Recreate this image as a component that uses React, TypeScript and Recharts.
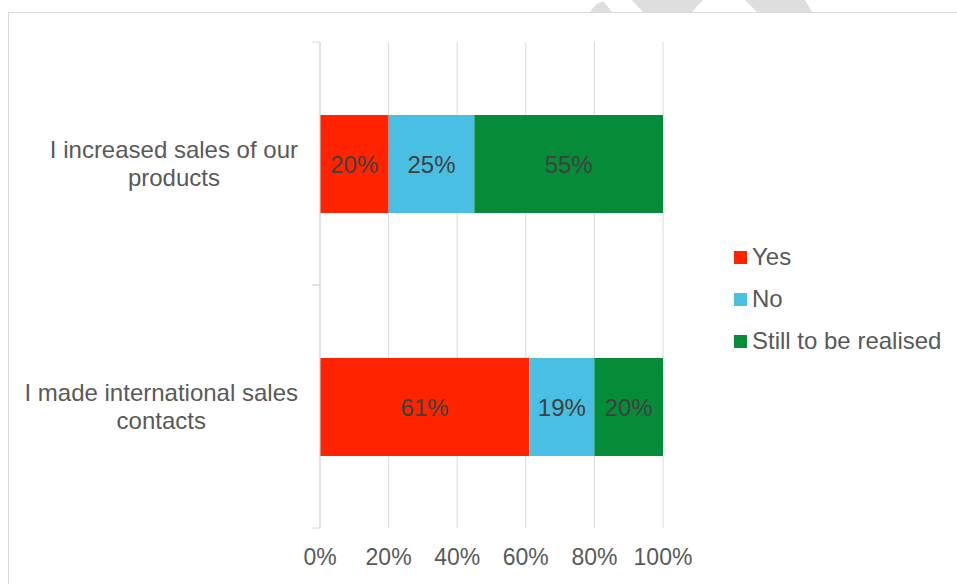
import React from 'react';
import { BarChart, Bar, XAxis, YAxis, CartesianGrid, Legend, LabelList } from 'recharts';

const categories = ['I increased sales of our products', 'I made international sales contacts'];
const categoryLines = [
  ['I increased sales of our', 'products'],
  ['I made international sales', 'contacts'],
];
const yesValues = [20, 61];
const noValues = [25, 19];
const stillValues = [55, 20];
const xTicks = [0, 20, 40, 60, 80, 100];
const seriesNames = ['Yes', 'No', 'Still to be realised'];
const seriesColors = ['#FF2300', '#49BFE3', '#068C38'];

const data = categories.map((name, i) => ({
  name,
  yes: yesValues[i],
  no: noValues[i],
  still: stillValues[i],
}));

const FONT = '"Liberation Sans", Arial, sans-serif';
const FS = 24;

let measureCtx: CanvasRenderingContext2D | null = null;
function textWidth(s: string) {
  if (!measureCtx) {
    measureCtx = document.createElement('canvas').getContext('2d');
  }
  if (!measureCtx) return s.length * 12;
  measureCtx.font = `${FS}px ${FONT}`;
  return measureCtx.measureText(s).width;
}

// category tick: wrapped label, plus small tick marks on the band edges (Excel style)
function CategoryTick(props: any) {
  const { x, y, payload, index } = props;
  const half = payload && payload.offset ? payload.offset : 121.5;
  const lines = categoryLines[index] || [String(payload.value)];
  const right = x - 14;
  const w = Math.max(...lines.map(textWidth));
  const cx = right - w / 2;
  const lh = 28;
  const startY = y - 1 - ((lines.length - 1) * lh) / 2;
  return (
    <g>
      <line x1={x} x2={x + 8} y1={y - half} y2={y - half} stroke="#d9d9d9" strokeWidth={1} />
      <line x1={x} x2={x + 8} y1={y + half} y2={y + half} stroke="#d9d9d9" strokeWidth={1} />
      <text x={cx} y={startY} textAnchor="middle" fill="#595959" fontSize={FS} fontFamily={FONT} dominantBaseline="central">
        {lines.map((l, i) => (
          <tspan key={i} x={cx} y={startY + i * lh}>
            {l}
          </tspan>
        ))}
      </text>
    </g>
  );
}

function renderLegend() {
  return (
    <div style={{ fontFamily: FONT, fontSize: FS, color: '#595959' }}>
      {seriesNames.map((n, i) => (
        <div key={n} style={{ display: 'flex', alignItems: 'center', height: 42 }}>
          <span style={{ display: 'inline-block', width: 13, height: 13, background: seriesColors[i], marginRight: 5 }} />
          <span>{n}</span>
        </div>
      ))}
    </div>
  );
}

const pct = (v: any) => `${v}%`;

export default function App() {
  return (
    <div style={{ position: 'absolute', left: 0, top: 0, width: 957, height: 584, overflow: 'hidden', background: '#fff' }}>
      <svg width={957} height={14} style={{ position: 'absolute', left: 0, top: 0 }}>
        <path d="M590 12 Q598 0 604 2 L612 12 Z" fill="#dedede" />
        <polygon points="632,0 703,0 692,12 643,12" fill="#dedede" />
        <polygon points="745,0 805,0 812,12 757,12" fill="#dedede" />
      </svg>
      <div
        style={{
          position: 'absolute',
          left: 8,
          top: 12,
          width: 1000,
          height: 620,
          border: '1.5px solid #d9d9d9',
          boxSizing: 'border-box',
        }}
      />
      <div style={{ position: 'absolute', left: 0, top: 0 }}>
        <BarChart
          width={957}
          height={584}
          data={data}
          layout="vertical"
          margin={{ top: 42, right: 294, bottom: 26, left: 20 }}
          barSize={98}
        >
          <CartesianGrid horizontal={false} stroke="#d9d9d9" />
          <XAxis
            type="number"
            domain={[0, 100]}
            ticks={xTicks}
            tickFormatter={pct}
            axisLine={false}
            tickLine={false}
            height={30}
            tickSize={0}
            tickMargin={21}
            tick={{ fill: '#595959', fontSize: 23, fontFamily: FONT }}
          />
          <YAxis
            type="category"
            dataKey="name"
            width={300}
            interval={0}
            axisLine={{ stroke: '#d9d9d9' }}
            tickLine={false}
            tickSize={8}
            tickMargin={0}
            tick={<CategoryTick />}
          />
          <Legend
            layout="vertical"
            align="center"
            verticalAlign="middle"
            content={renderLegend}
            wrapperStyle={{ position: 'absolute', left: 734, top: 236, width: 223 }}
          />
          <Bar dataKey="yes" stackId="a" fill={seriesColors[0]} isAnimationActive={false}>
            <LabelList dataKey="yes" position="center" formatter={pct} fill="#404040" fontSize={FS} fontFamily={FONT} />
          </Bar>
          <Bar dataKey="no" stackId="a" fill={seriesColors[1]} isAnimationActive={false}>
            <LabelList dataKey="no" position="center" formatter={pct} fill="#404040" fontSize={FS} fontFamily={FONT} />
          </Bar>
          <Bar dataKey="still" stackId="a" fill={seriesColors[2]} isAnimationActive={false}>
            <LabelList dataKey="still" position="center" formatter={pct} fill="#404040" fontSize={FS} fontFamily={FONT} />
          </Bar>
        </BarChart>
      </div>
    </div>
  );
}
